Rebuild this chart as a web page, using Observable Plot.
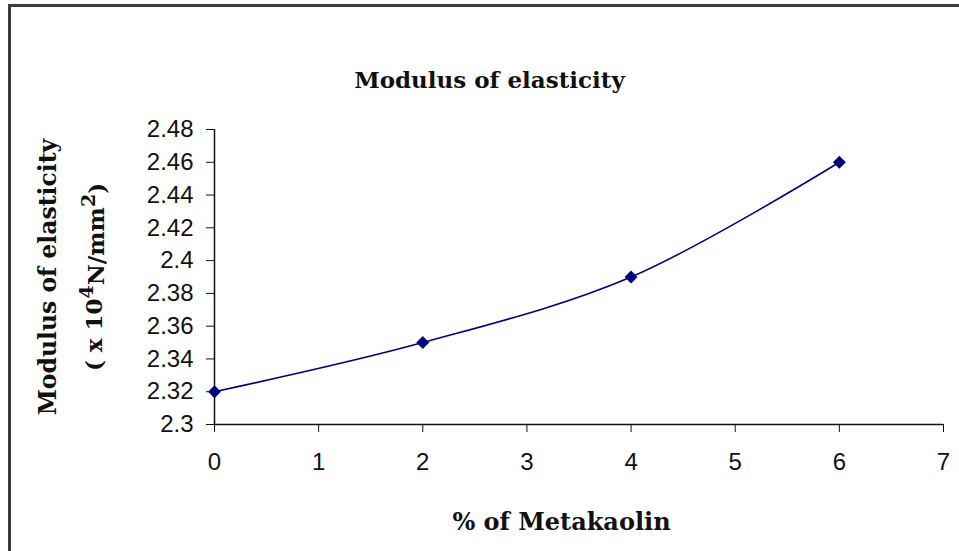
<!DOCTYPE html>
<html><head><meta charset="utf-8">
<script src="https://cdn.jsdelivr.net/npm/d3@7"></script>
<script src="https://cdn.jsdelivr.net/npm/@observablehq/plot@0.6"></script>
<style>
body{margin:0;background:#fff;}
#wrap{position:relative;width:959px;height:551px;overflow:hidden;background:#fff;}
#frame{position:absolute;left:8px;top:4px;width:1000px;height:600px;border-left:3px solid #3c3c3c;border-top:3px solid #3c3c3c;}
#chart{position:absolute;left:0;top:0;}
</style></head><body>
<div id="wrap"><div id="frame"></div><div id="chart"></div></div>
<script>
const metakaolin = [0, 2, 4, 6];
const modulus = [2.32, 2.35, 2.39, 2.46];
const xTicks = [0, 1, 2, 3, 4, 5, 6, 7];
const yTicks = [2.3, 2.32, 2.34, 2.36, 2.38, 2.4, 2.42, 2.44, 2.46, 2.48];
const titleText = "Modulus of elasticity";
const yLabel1 = "Modulus of elasticity";
const yLabel2 = "( x 10⁴N/mm²)";
const yLabel2Parts = [["( x 10", false], ["4", true], ["N/mm", false], ["2", true], [")", false]];
const xLabel = "% of Metakaolin";

const data = metakaolin.map((x, i) => ({x, y: modulus[i]}));
const serif = "'DejaVu Serif', 'Liberation Serif', serif";

const plot = Plot.plot({
  width: 959, height: 551,
  marginLeft: 214, marginRight: 16, marginTop: 129, marginBottom: 127,
  style: {background: "transparent", fontFamily: "'Liberation Sans', Arial, sans-serif", fontSize: "24px", color: "#111"},
  x: {domain: [0, 7]},
  y: {domain: [2.3, 2.48]},
  marks: [
    Plot.axisY({ticks: yTicks, tickSize: 8, tickPadding: 13, label: null, tickFormat: d => String(+d.toFixed(2)), fontSize: 24, stroke: "#111"}),
    Plot.axisX({ticks: xTicks, tickSize: 8, tickPadding: 20, label: null, tickFormat: d => String(d), fontSize: 24, stroke: "#111"}),
    Plot.ruleX([0], {stroke: "#111", strokeWidth: 1.5}),
    Plot.ruleY([2.3], {stroke: "#111", strokeWidth: 1.5}),
    Plot.line(data, {x: "x", y: "y", stroke: "#000080", strokeWidth: 1.6, curve: "catmull-rom"}),
    Plot.dot(data, {x: "x", y: "y", symbol: "diamond2", r: 5.8, fill: "#000080", stroke: "none"}),
    Plot.text([titleText], {text: d => d, frameAnchor: "top-left", dx: 275, dy: -49, fontFamily: serif, fontWeight: "bold", fontSize: 23, textAnchor: "middle", lineAnchor: "middle", fill: "#111"}),
    Plot.text([yLabel1], {text: d => d, frameAnchor: "left", dx: -166, rotate: -90, fontFamily: serif, fontWeight: "bold", fontSize: 23.5, textAnchor: "middle", lineAnchor: "middle", fill: "#111"}),
    Plot.text([yLabel2], {text: d => d, frameAnchor: "left", dx: -120, rotate: -90, fontFamily: serif, fontWeight: "bold", fontSize: 23, textAnchor: "middle", lineAnchor: "middle", fill: "#111", className: "ylab2"}),
    Plot.text([xLabel], {text: d => d, frameAnchor: "bottom-left", dx: 347, dy: 98, fontFamily: serif, fontWeight: "bold", fontSize: 24, textAnchor: "middle", lineAnchor: "middle", fill: "#111"})
  ]
});
document.getElementById("chart").append(plot);

// render superscripts of the second y label as raised tspans
d3.select(plot).selectAll("text").each(function() {
  if (this.textContent !== yLabel2) return;
  const t = d3.select(this);
  t.text(null);
  let raised = false;
  for (const [s, sup] of yLabel2Parts) {
    const sp = t.append("tspan").text(s);
    if (sup && !raised) { sp.attr("dy", "-0.45em").attr("font-size", "19px"); raised = true; }
    else if (!sup && raised) { sp.attr("dy", "0.45em"); raised = false; }
  }
});
</script>
</body></html>
